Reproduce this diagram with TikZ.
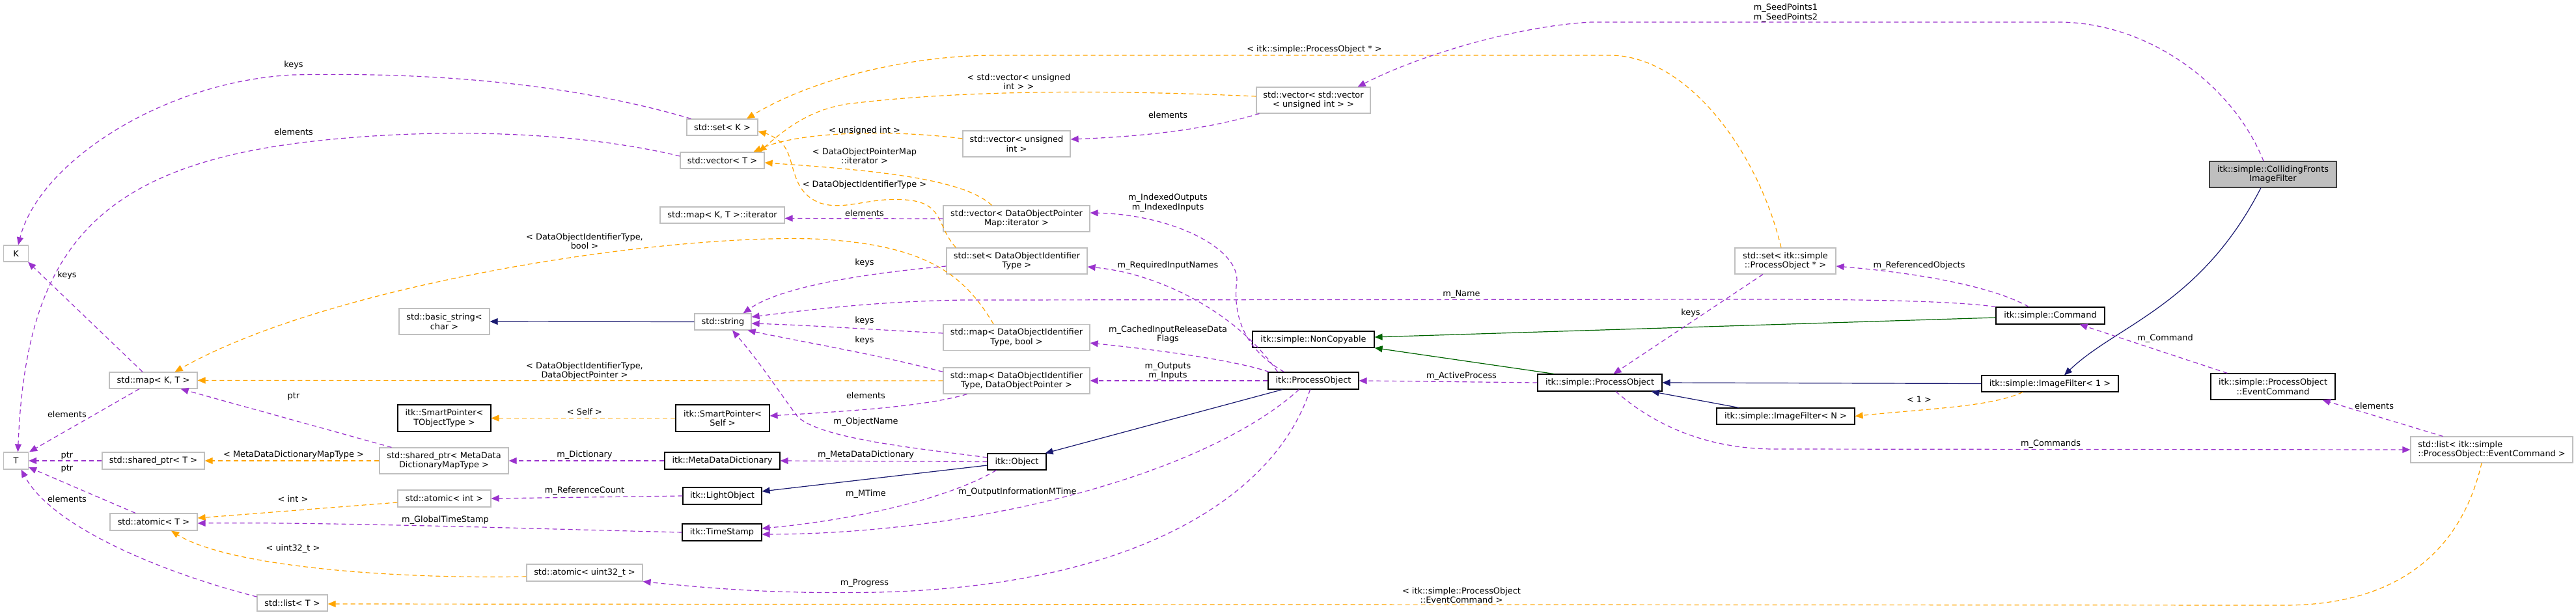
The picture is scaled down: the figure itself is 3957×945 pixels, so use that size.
\documentclass[tikz,border=0pt]{standalone}
\usepackage{fontspec}
\setmainfont{DejaVu Sans}
\usetikzlibrary{arrows.meta}
\definecolor{pur}{HTML}{9A32CD}
\definecolor{ora}{HTML}{FFA500}
\definecolor{nav}{HTML}{191970}
\definecolor{grn}{HTML}{006400}
\definecolor{gbord}{HTML}{BFBFBF}
\begin{document}
\begin{tikzpicture}[x=1pt,y=-1pt,
  every node/.style={font=\fontsize{12.9}{14.5}\selectfont},
  gbox/.style={draw=gbord, line width=1.2pt, fill=white, inner sep=0pt, align=center},
  bbox/.style={draw=black, line width=1.1pt, fill=white, inner sep=0pt, align=center},
  mbox/.style={draw=black!75, line width=1.1pt, fill=gbord, inner sep=0pt, align=center},
  lbl/.style={inner sep=0pt, align=center},
  conn/.style={line width=1.2pt, -{Triangle[length=12pt,width=10pt]}},
  usel/.style={conn, draw=pur, dash pattern=on 7pt off 5pt},
  tmpl/.style={conn, draw=ora, dash pattern=on 7pt off 5pt},
  inhn/.style={conn, draw=nav},
  inhg/.style={conn, draw=grn}
]
\useasboundingbox (0,0) rectangle (3957,945);
\fill[white] (0,0) rectangle (3957,945);

% ---------- nodes ----------
\node[gbox, minimum width=38pt, minimum height=25pt] (K) at (24.5,389.5) {K};
\node[gbox, minimum width=38pt, minimum height=26pt] (T) at (24.5,708) {T};
\node[gbox, minimum width=135pt, minimum height=25pt] (mapKT) at (235.5,584.5) {std::map< K, T >};
\node[gbox, minimum width=157pt, minimum height=26pt] (sharedT) at (235.5,708) {std::shared\_ptr< T >};
\node[gbox, minimum width=134pt, minimum height=26pt] (atomicT) at (236,802) {std::atomic< T >};
\node[gbox, minimum width=108pt, minimum height=25pt] (listT) at (449,926.5) {std::list< T >};
\node[gbox, minimum width=139pt, minimum height=40pt] (basicstr) at (682.5,494) {std::basic\_string<\\char >};
\node[bbox, minimum width=143pt, minimum height=41pt] (spTObj) at (682.5,642.5) {itk::SmartPointer<\\TObjectType >};
\node[gbox, minimum width=198pt, minimum height=40pt] (sharedMD) at (682,708) {std::shared\_ptr< MetaData\\DictionaryMapType >};
\node[gbox, minimum width=143pt, minimum height=26pt] (atomicInt) at (682.5,766) {std::atomic< int >};
\node[gbox, minimum width=178pt, minimum height=26pt] (atomicU32) at (898,880) {std::atomic< uint32\_t >};
\node[gbox, minimum width=87pt, minimum height=25pt] (string) at (1110.5,494.5) {std::string};
\node[bbox, minimum width=144pt, minimum height=41pt] (spSelf) at (1110,642.5) {itk::SmartPointer<\\Self >};
\node[bbox, minimum width=177pt, minimum height=26pt] (mdd) at (1109.5,708) {itk::MetaDataDictionary};
\node[bbox, minimum width=121pt, minimum height=26pt] (light) at (1109.5,762) {itk::LightObject};
\node[bbox, minimum width=122pt, minimum height=26pt] (tstamp) at (1109,818) {itk::TimeStamp};
\node[gbox, minimum width=109pt, minimum height=25pt] (setK) at (1109.5,195.5) {std::set< K >};
\node[gbox, minimum width=129pt, minimum height=25pt] (vecT) at (1109.5,246.5) {std::vector< T >};
\node[gbox, minimum width=191pt, minimum height=25pt] (mapIt) at (1109.5,330.5) {std::map< K, T >::iterator};
\node[gbox, minimum width=165pt, minimum height=40pt] (vecUI) at (1561.5,221) {std::vector< unsigned\\int >};
\node[gbox, minimum width=225pt, minimum height=40pt] (vecDOPMI) at (1561.5,336) {std::vector< DataObjectPointer\\Map::iterator >};
\node[gbox, minimum width=216pt, minimum height=40pt] (setDOIT) at (1562,401) {std::set< DataObjectIdentifier\\Type >};
\node[gbox, minimum width=225pt, minimum height=40pt] (mapDOITbool) at (1561.5,518.5) {std::map< DataObjectIdentifier\\Type, bool >};
\node[gbox, minimum width=225pt, minimum height=40pt] (mapDOITDOP) at (1561.5,585) {std::map< DataObjectIdentifier\\Type, DataObjectPointer >};
\node[bbox, minimum width=90pt, minimum height=25pt] (object) at (1562,709.5) {itk::Object};
\node[gbox, minimum width=175pt, minimum height=40pt] (vecvec) at (2017.5,154) {std::vector< std::vector\\< unsigned int > >};
\node[bbox, minimum width=187pt, minimum height=25pt] (noncopy) at (2017.5,521.5) {itk::simple::NonCopyable};
\node[bbox, minimum width=139pt, minimum height=26pt] (procobj) at (2017.5,585) {itk::ProcessObject};
\node[gbox, minimum width=155pt, minimum height=40pt] (setSPO) at (2742.5,401) {std::set< itk::simple\\::ProcessObject * >};
\node[bbox, minimum width=191pt, minimum height=26pt] (sPO) at (2457.5,588) {itk::simple::ProcessObject};
\node[bbox, minimum width=212pt, minimum height=25pt] (ifN) at (2743,639.5) {itk::simple::ImageFilter< N >};
\node[bbox, minimum width=167pt, minimum height=26pt] (command) at (3149.5,485) {itk::simple::Command};
\node[bbox, minimum width=210pt, minimum height=25pt] (if1) at (3149,589.5) {itk::simple::ImageFilter< 1 >};
\node[mbox, minimum width=195pt, minimum height=40pt] (cff) at (3491.5,268) {itk::simple::CollidingFronts\\ImageFilter};
\node[bbox, minimum width=191pt, minimum height=40pt] (evcmd) at (3491.5,594) {itk::simple::ProcessObject\\::EventCommand};
\node[gbox, minimum width=249pt, minimum height=40pt, align=left] (listEv) at (3827.5,691) {std::list< itk::simple\\::ProcessObject::EventCommand >};

% ---------- inheritance ----------
\draw[inhn] (string.west) -- (basicstr.east);
\draw[inhn] ([yshift=-5.5pt]object.west) -- ([yshift=7pt]light.east);
\draw[inhn] ([xshift=-47.5pt]procobj.south) -- ([xshift=-2pt]object.north east);
\draw[inhg] ([yshift=-3pt]command.west) -- ([yshift=3.5pt]noncopy.east);
\draw[inhg] ([xshift=-70.5pt]sPO.north) -- (noncopy.south east);
\draw[inhn] (if1.west) -- (sPO.east);
\draw[inhn] ([xshift=-72pt]ifN.north) -- ([xshift=-17pt]sPO.south east);
\draw[inhn] ([xshift=-18.5pt]cff.south) .. controls (3380,470) and (3250,500) .. ([xshift=22pt]if1.north);

% ---------- template instantiations ----------
\draw[tmpl] ([yshift=8pt]vecUI.west) .. controls (1380,200) and (1230,200) .. ([xshift=48pt]vecT.north);
\draw[tmpl] ([yshift=6pt]vecvec.west) .. controls (1750,140) and (1500,135) .. (1300,160) .. controls (1240,170) and (1205,200) .. ([xshift=-9pt]vecT.north east);
\draw[tmpl] ([xshift=-38pt]vecDOPMI.north) .. controls (1480,275) and (1350,262) .. ([yshift=-3.5pt]vecT.east);
\draw[tmpl] ([xshift=15pt]setDOIT.north west) .. controls (1440,350) and (1450,315) .. (1400,308) .. controls (1340,300) and (1300,325) .. (1260,312) .. controls (1215,295) and (1222,250) .. (1205,225) .. controls (1195,212) and (1180,206) .. ([yshift=-6.5pt]setK.east);
\draw[tmpl] ([xshift=-6.5pt]setSPO.north) .. controls (2700,230) and (2590,85) .. (2473,85) -- (1528,85) .. controls (1400,85) and (1250,120) .. ([xshift=37.5pt]setK.north);
\draw[tmpl] ([xshift=-35.5pt]mapDOITbool.north) .. controls (1480,420) and (1420,375) .. (1250,367) .. controls (1000,360) and (500,440) .. ([xshift=-35pt]mapKT.north east);
\draw[tmpl] (mapDOITDOP.west) -- (mapKT.east);
\draw[tmpl] (sharedMD.west) -- (sharedT.east);
\draw[tmpl] (spSelf.west) -- (spTObj.east);
\draw[tmpl] ([yshift=-6pt]atomicInt.west) -- ([yshift=6pt]atomicT.east);
\draw[tmpl] ([yshift=-6pt]atomicU32.west) .. controls (600,890) and (350,870) .. ([xshift=27pt]atomicT.south);
\draw[tmpl] ([xshift=-15.5pt]listEv.south) .. controls (3780,850) and (3680,930) .. (3509,930) -- ([yshift=-1.5pt]listT.east);
\draw[tmpl] ([xshift=-42pt]if1.south) .. controls (3060,625) and (2960,628) .. (ifN.east);

% ---------- usage ----------
\draw[usel] ([xshift=7pt]setK.north west) .. controls (900,135) and (700,110) .. (451,115) .. controls (250,125) and (60,250) .. ([xshift=3.5pt]K.north);
\draw[usel] ([yshift=6.5pt]vecT.west) .. controls (900,205) and (700,195) .. (500,215) .. controls (150,250) and (40,380) .. ([xshift=3pt]T.north);
\draw[usel] ([xshift=-16.5pt]mapKT.north) -- ([xshift=-1pt]K.south east);
\draw[usel] ([xshift=-21.5pt]mapKT.south) -- ([xshift=1pt]T.north east);
\draw[usel] (sharedT.west) -- (T.east);
\draw[usel] ([xshift=-28pt]atomicT.north) -- ([yshift=-10pt]T.east);
\draw[usel] ([yshift=9.5pt]listT.west) .. controls (250,880) and (80,810) .. ([xshift=8pt]T.south);
\draw[usel] ([xshift=19pt]sharedMD.north west) -- ([xshift=-26pt]mapKT.south east);
\draw[usel] (mdd.west) -- (sharedMD.east);
\draw[usel] (light.west) -- (atomicInt.east);
\draw[usel] (tstamp.west) .. controls (800,812) and (500,802) .. ([yshift=-2pt]atomicT.east);
\draw[usel] ([yshift=-8pt]setDOIT.west) .. controls (1330,420) and (1200,440) .. ([xshift=-13pt]string.north east);
\draw[usel] (command.north west) .. controls (3000,462) and (2850,460) .. (2700,460) -- (1480,461) .. controls (1350,463) and (1250,475) .. ([yshift=7.5pt]string.east);
\draw[usel] ([yshift=6.5pt]mapDOITbool.west) .. controls (1350,507) and (1250,500) .. ([yshift=-2.5pt]string.east);
\draw[usel] ([yshift=-7pt]mapDOITDOP.north west) .. controls (1350,545) and (1230,525) .. ([xshift=-6pt]string.south east);
\draw[usel] ([yshift=6.5pt]object.west) .. controls (1420,690) and (1260,675) .. (1225,640) .. controls (1195,600) and (1170,560) .. ([xshift=14.5pt]string.south);
\draw[usel] ([xshift=-76pt]mapDOITDOP.south) .. controls (1420,625) and (1300,632) .. ([yshift=3.5pt]spSelf.east);
\draw[usel] (object.west) -- (mdd.east);
\draw[usel] ([xshift=14pt]object.south west) .. controls (1450,770) and (1300,800) .. ([yshift=6pt]tstamp.east);
\draw[usel] ([xshift=-22pt]procobj.south) .. controls (1850,730) and (1500,820) .. ([yshift=-3pt]tstamp.east);
\draw[usel] ([xshift=-5pt]procobj.south) .. controls (1960,760) and (1750,900) .. (1350,910) .. controls (1200,913) and (1100,905) .. (atomicU32.south east);
\draw[usel] (procobj.west) -- (mapDOITDOP.east);
\draw[usel] ([xshift=2pt]procobj.north west) .. controls (1900,555) and (1800,540) .. ([yshift=-8.5pt]mapDOITbool.east);
\draw[usel] ([xshift=-55pt]procobj.north) .. controls (1900,480) and (1780,420) .. ([yshift=-9pt]setDOIT.east);
\draw[usel] ([xshift=-45pt]procobj.north) .. controls (1900,530) and (1895,470) .. (1900,430) .. controls (1900,380) and (1800,330) .. ([yshift=9pt]vecDOPMI.east);
\draw[usel] (vecDOPMI.west) -- ([yshift=-5pt]mapIt.east);
\draw[usel] ([xshift=5pt]vecvec.south west) .. controls (1850,200) and (1750,210) .. ([yshift=7pt]vecUI.east);
\draw[usel] ([xshift=-14.5pt]cff.north) .. controls (3430,130) and (3300,34) .. (3162,34) -- (2444,34) .. controls (2330,40) and (2180,85) .. ([xshift=-20pt]vecvec.north east);
\draw[usel] (sPO.west) -- (procobj.east);
\draw[usel] ([xshift=-34.5pt]setSPO.south) -- ([xshift=21pt]sPO.north);
\draw[usel] ([xshift=51pt]command.north west) .. controls (3060,440) and (2950,420) .. ([yshift=-8pt]setSPO.east);
\draw[usel] ([xshift=26pt]evcmd.north west) -- ([xshift=-39pt]command.south east);
\draw[usel] ([xshift=50pt]listEv.north west) -- ([xshift=-20pt]evcmd.south east);
\draw[usel] ([xshift=24.5pt]sPO.south) .. controls (2560,670) and (2650,690) .. (2726,690) -- (listEv.west);

% ---------- labels ----------
\node[lbl] (lk1) at (451,100) {keys};
\node[lbl] (le1) at (451,203) {elements};
\node[lbl] (lk2) at (103,423) {keys};
\node[lbl] (le2) at (103,637) {elements};
\node[lbl] (lp1) at (103,700) {ptr};
\node[lbl] (lp2) at (103,720) {ptr};
\node[lbl] (le3) at (103,767) {elements};
\node[lbl] (lp3) at (451,609) {ptr};
\node[lbl] (lmd) at (451,699) {< MetaDataDictionaryMapType >};
\node[lbl] (lint) at (450,767) {< int >};
\node[lbl] (lu32) at (450,843) {< uint32\_t >};
\node[lbl] (lev) at (2245,914.5) {< itk::simple::ProcessObject\\::EventCommand >};
\node[lbl] (ldb) at (898,370.5) {< DataObjectIdentifierType,\\bool >};
\node[lbl] (ldd) at (898,570) {< DataObjectIdentifierType,\\DataObjectPointer >};
\node[lbl] (lself) at (898,633) {< Self >};
\node[lbl] (ldict) at (898,699) {m\_Dictionary};
\node[lbl] (lref) at (898,754) {m\_ReferenceCount};
\node[lbl] (lgts) at (684,799) {m\_GlobalTimeStamp};
\node[lbl] (lui) at (1328,201) {< unsigned int >};
\node[lbl] (lvv) at (1565,125.5) {< std::vector< unsigned\\int > >};
\node[lbl] (lit) at (1328,239.5) {< DataObjectPointerMap\\::iterator >};
\node[lbl] (ldoit) at (1328,284) {< DataObjectIdentifierType >};
\node[lbl] (le4) at (1328,328) {elements};
\node[lbl] (lk3) at (1328,404) {keys};
\node[lbl] (lk4) at (1328,493) {keys};
\node[lbl] (lk5) at (1328,523) {keys};
\node[lbl] (le5) at (1330,608) {elements};
\node[lbl] (lon) at (1330,648) {m\_ObjectName};
\node[lbl] (lmdd) at (1330,699) {m\_MetaDataDictionary};
\node[lbl] (lmt) at (1330,759) {m\_MTime};
\node[lbl] (loim) at (1563,756) {m\_OutputInformationMTime};
\node[lbl] (lprog) at (1328,896) {m\_Progress};
\node[lbl] (lspo) at (2019,76) {< itk::simple::ProcessObject * >};
\node[lbl] (le6) at (1794,177) {elements};
\node[lbl] (lidx) at (1794,311.5) {m\_IndexedOutputs\\m\_IndexedInputs};
\node[lbl] (lreq) at (1794,408) {m\_RequiredInputNames};
\node[lbl] (lcache) at (1794,514) {m\_CachedInputReleaseData\\Flags};
\node[lbl] (lio) at (1794,570) {m\_Outputs\\m\_Inputs};
\node[lbl] (lseed) at (2743,19.5) {m\_SeedPoints1\\m\_SeedPoints2};
\node[lbl] (lname) at (2245,452) {m\_Name};
\node[lbl] (lk6) at (2597,481) {keys};
\node[lbl] (lact) at (2245,578) {m\_ActiveProcess};
\node[lbl] (lrefo) at (2948,408) {m\_ReferencedObjects};
\node[lbl] (lone) at (2948,614) {< 1 >};
\node[lbl] (lcmd) at (3326,520) {m\_Command};
\node[lbl] (le7) at (3647,624) {elements};
\node[lbl] (lcmds) at (3150,682) {m\_Commands};
\end{tikzpicture}
\end{document}
